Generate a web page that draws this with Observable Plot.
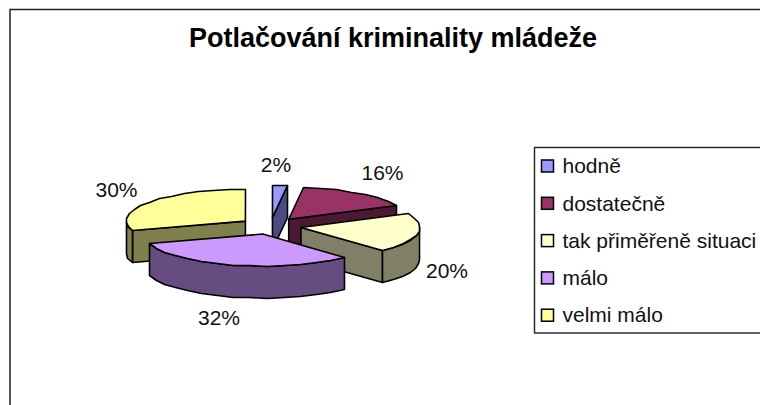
<!DOCTYPE html>
<html><head><meta charset="utf-8">
<script src="https://cdn.jsdelivr.net/npm/d3@7"></script>
<script src="https://cdn.jsdelivr.net/npm/@observablehq/plot@0.6"></script>
<style>html,body{margin:0;padding:0;background:#fff}svg{display:block}</style>
</head><body><div id="c"></div>
<script>
const titleText = "Potlačování kriminality mládeže";
const categories = ["hodně","dostatečně","tak přiměřeně situaci","málo","velmi málo"];
const percents = [2,16,20,32,30];
const topColors = ["#9999ff","#993366","#ffffcc","#cc99ff","#ffff99"];
const wallColors = ["#4c4c80","#4c1933","#808066","#664c80","#80804c"];
const labelNudges = [[-3.5,-20],[24,-20],[29.5,38],[-14.5,52.5],[-33,-12]];

// pie projection
const cx = 270, cy = 225.5, rx = 119, ry = 32, depth = 32, explode = 31;
const rad = d => d * Math.PI / 180;
const FONT = "Liberation Sans, Arial, sans-serif";
let acc = 0;
const slices = percents.map((p, i) => {
  const a0 = acc * 3.6; acc += p; const a1 = acc * 3.6; const m = (a0 + a1) / 2;
  return {i, p, a0, a1, m,
    ax: cx + explode * Math.sin(rad(m)),
    ay: cy - explode * (ry / rx) * Math.cos(rad(m))};
});
const pt = (s, a, d = 0) => ({x: Math.round(s.ax + rx * Math.sin(rad(a))), y: Math.round(s.ay - ry * Math.cos(rad(a))) + d});
const arc = (s, a0, a1, d = 0) => {
  const n = Math.max(1, Math.round((a1 - a0) / 8));
  return d3.range(n + 1).map(k => pt(s, a0 + (a1 - a0) * k / n, d));
};
const apex = (s, d = 0) => ({x: s.ax, y: s.ay + d});
const poly = (pts, fill) => Plot.line(pts, {x: "x", y: "y", fill, stroke: "#000", strokeWidth: 1.6, curve: "linear-closed", strokeLinejoin: "round"});

const marks = [];
// frame
marks.push(Plot.rect([{}], {x1: () => 10, x2: () => 775, y1: () => 9.5, y2: () => 420, fill: "#fff", stroke: "#222", strokeWidth: 1.5}));
marks.push(Plot.text([titleText], {x: () => 392.5, y: () => 38, text: d => d, fontSize: 27, fontWeight: "bold", fontFamily: FONT, fill: "#000"}));

// painter's order: back to front
const paint = (i, walls) => {
  const s = slices[i];
  walls.forEach(w => marks.push(poly(w(s), wallColors[i])));
  marks.push(poly([apex(s), ...arc(s, s.a0, s.a1)], topColors[i]));
};
const cut = a => s => [apex(s), pt(s, a), pt(s, a, depth), apex(s, depth)];
const rim = (a0, a1) => s => [...arc(s, a0, a1), ...arc(s, a0, a1, depth).reverse()];
paint(4, [cut(252), rim(252, 270)]);
paint(0, [cut(7.2)]);
paint(1, [cut(64.8)]);
paint(2, [cut(136.8), rim(90, 136.8)]);
paint(3, [rim(136.8, 252)]);

// percentage labels
const labelData = slices.map(s => {
  const o = pt(s, s.m), n = labelNudges[s.i];
  return {x: o.x + n[0], y: o.y + n[1], t: s.p + "%"};
});
marks.push(Plot.text(labelData, {x: "x", y: "y", text: "t", fontSize: 21, fontFamily: FONT, fill: "#111"}));

// legend
const legendTop = 166, legendStep = 37.3;
const legend = categories.map((c, i) => ({c, i, y: legendTop + i * legendStep}));
marks.push(Plot.rect([{}], {x1: () => 534.5, x2: () => 775, y1: () => 147.5, y2: () => 333, fill: "#fff", stroke: "#222", strokeWidth: 1.4}));
marks.push(Plot.rect(legend, {x1: () => 541.5, x2: () => 553.5, y1: d => d.y - 6, y2: d => d.y + 6, fill: d => topColors[d.i], stroke: "#000", strokeWidth: 1.5}));
marks.push(Plot.text(legend, {x: () => 562, y: "y", text: "c", textAnchor: "start", fontSize: 21, fontFamily: FONT, fill: "#111"}));

const chart = Plot.plot({
  width: 760, height: 405, margin: 0,
  style: {background: "#fff", overflow: "hidden"},
  x: {type: "linear", domain: [0, 760], range: [0, 760], axis: null},
  y: {type: "linear", domain: [0, 405], range: [0, 405], axis: null},
  color: {type: "identity"},
  marks
});
document.getElementById("c").append(chart);
</script></body></html>
